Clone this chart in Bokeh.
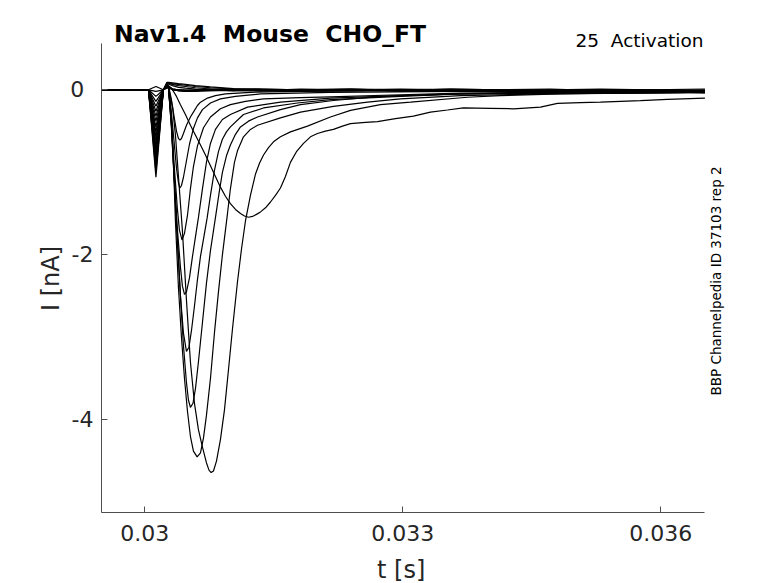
import math
from bokeh.plotting import figure
from bokeh.models import Range1d, FixedTicker, Label
from bokeh.embed import file_html
from bokeh.resources import INLINE

# ---------------- texts / ticks ----------------
TITLE = "Nav1.4  Mouse  CHO_FT"
PROTOCOL = "25  Activation"
SOURCE = "BBP Channelpedia ID 37103 rep 2"
X_LABEL = "t [s]"
Y_LABEL = "I [nA]"
X_TICKS = [0.030, 0.033, 0.036]
X_TICK_LABELS = ["0.03", "0.033", "0.036"]
Y_TICKS = [0, -2, -4]
Y_TICK_LABELS = ["0", "-2", "-4"]

# axis extents as drawn in the original (s, nA)
X_AXIS_START, X_AXIS_END = 0.029497, 0.036514
Y_AXIS_START, Y_AXIS_END = -5.1236, 0.558

# ---------------- data (time in ms, current in nA) ----------------
# common start of every sweep: baseline, step artefact dip, spike
PRE_T_MS = [29.497, 30.020, 30.043, 30.130, 30.217, 30.258]
DIP = [0.04, -0.02, -0.08, -0.14, -0.20, -0.26, -0.32, -0.38, -0.45, -0.51,
       -0.57, -0.63, -0.69, -0.75, -0.81, -0.87, -0.94, -1.00, -1.06]
SPIKE = [0.02, 0.03, 0.03, 0.04, 0.04, 0.05, 0.05, 0.07, 0.07, 0.07,
         0.07, 0.07, 0.07, 0.07, 0.07, 0.07, 0.08, 0.085, 0.09]

# sweeps without a large inward current (shared time grid)
FLAT_T_MS = [30.276, 30.322, 30.392, 30.473, 30.590, 30.764, 31.031, 31.346,
             31.811, 32.392, 32.973, 33.555, 34.136, 34.717, 35.299, 35.880, 36.514]
SWEEP_00 = [0.02, 0.01, 0.0, -0.01, 0.0, 0.01, 0.0, -0.01, 0.01, 0.0, -0.01, 0.01, 0.0, 0.01, -0.01, 0.0, 0.01]
SWEEP_01 = [0.03, 0.01, 0.0, 0.0, -0.01, 0.0, 0.01, 0.0, -0.01, 0.0, 0.01, 0.0, -0.01, 0.0, 0.01, 0.0, -0.01]
SWEEP_02 = [0.03, 0.0, -0.01, -0.01, 0.0, 0.0, -0.01, 0.01, 0.0, -0.01, 0.0, 0.01, 0.0, -0.01, 0.0, -0.01, 0.0]
SWEEP_03 = [0.04, 0.01, 0.0, -0.01, -0.01, 0.0, 0.0, -0.01, 0.0, 0.01, -0.01, 0.0, 0.0, -0.01, 0.0, 0.0, -0.02]
SWEEP_04 = [0.04, 0.0, -0.01, -0.02, -0.01, -0.01, 0.0, -0.01, -0.01, 0.0, -0.01, 0.0, -0.01, -0.02, 0.0, -0.01, -0.02]
SWEEP_05 = [0.05, 0.01, -0.01, -0.02, -0.02, -0.01, -0.01, -0.01, -0.02, -0.01, 0.0, -0.02, -0.01, -0.02, -0.01, -0.02, -0.03]
SWEEP_15 = [0.07, 0.05, 0.03, 0.02, 0.01, 0.0, -0.01, -0.01, -0.01, 0.0, -0.01, -0.02, -0.01, -0.02, -0.02, -0.01, -0.03]
SWEEP_16 = [0.08, 0.065, 0.05, 0.04, 0.025, 0.01, 0.0, 0.0, -0.01, 0.0, -0.01, 0.0, -0.01, -0.01, 0.0, -0.02, -0.02]
SWEEP_17 = [0.085, 0.075, 0.065, 0.055, 0.04, 0.025, 0.01, 0.005, 0.0, 0.01, 0.0, -0.01, 0.0, -0.01, -0.01, -0.02, -0.03]
SWEEP_18 = [0.09, 0.085, 0.075, 0.065, 0.05, 0.035, 0.015, 0.01, 0.0, 0.005, 0.0, 0.0, -0.01, 0.0, -0.02, -0.01, -0.04]

# sweeps with an inward Na current: (time ms, current nA)
SWEEP_06 = [(30.276, 0.04), (30.322, 0.0), (30.369, -0.08), (30.415, -0.18), (30.473, -0.30),
            (30.531, -0.43), (30.590, -0.55), (30.648, -0.67), (30.706, -0.79), (30.764, -0.92),
            (30.822, -1.05), (30.880, -1.18), (30.938, -1.29), (30.996, -1.38), (31.055, -1.45),
            (31.113, -1.50), (31.160, -1.53), (31.206, -1.545), (31.253, -1.535), (31.299, -1.51),
            (31.346, -1.48), (31.404, -1.43), (31.462, -1.36), (31.520, -1.28), (31.578, -1.19),
            (31.636, -1.05), (31.694, -0.88), (31.764, -0.75), (31.846, -0.65), (31.927, -0.57),
            (32.008, -0.53), (32.101, -0.50), (32.194, -0.48), (32.299, -0.44), (32.392, -0.41),
            (32.567, -0.395), (32.706, -0.385), (32.915, -0.35), (33.124, -0.32), (33.322, -0.27),
            (33.520, -0.245), (33.706, -0.22), (34.020, -0.225), (34.287, -0.23), (34.601, -0.21),
            (34.799, -0.165), (35.066, -0.155), (35.299, -0.15), (35.764, -0.13), (36.078, -0.115),
            (36.514, -0.10)]
SWEEP_07 = [(30.276, 0.03), (30.322, -0.20), (30.357, -0.55), (30.392, -1.05), (30.438, -1.71),
            (30.485, -2.55), (30.531, -3.30), (30.578, -3.80), (30.624, -4.12), (30.671, -4.33),
            (30.717, -4.52), (30.747, -4.61), (30.772, -4.64), (30.799, -4.62), (30.834, -4.50),
            (30.880, -4.24), (30.927, -3.88), (30.973, -3.40), (31.020, -2.90), (31.078, -2.33),
            (31.125, -1.93), (31.171, -1.59), (31.229, -1.28), (31.288, -1.02), (31.334, -0.89),
            (31.381, -0.79), (31.439, -0.70), (31.497, -0.63), (31.578, -0.57), (31.694, -0.51),
            (31.892, -0.44), (32.159, -0.33), (32.392, -0.25), (32.741, -0.18), (33.090, -0.15),
            (33.752, -0.09), (34.136, -0.07), (34.834, -0.05), (35.764, -0.035), (36.514, -0.03)]
SWEEP_08 = [(30.276, 0.02), (30.310, -0.35), (30.334, -0.90), (30.357, -1.60), (30.392, -2.40),
            (30.427, -3.00), (30.462, -3.50), (30.497, -3.90), (30.531, -4.20), (30.566, -4.38),
            (30.609, -4.45), (30.648, -4.40), (30.683, -4.22), (30.717, -3.95), (30.764, -3.50),
            (30.810, -2.95), (30.857, -2.45), (30.903, -2.00), (30.962, -1.50), (30.996, -1.20),
            (31.043, -0.88), (31.078, -0.74), (31.148, -0.57), (31.229, -0.48), (31.311, -0.43),
            (31.578, -0.34), (31.811, -0.27), (32.194, -0.20), (32.590, -0.15), (32.973, -0.11),
            (33.671, -0.07), (34.601, -0.05), (35.764, -0.04), (36.514, -0.03)]
SWEEP_09 = [(30.276, 0.02), (30.310, -0.40), (30.345, -1.10), (30.380, -1.80), (30.415, -2.50),
            (30.450, -3.10), (30.485, -3.55), (30.508, -3.76), (30.531, -3.85), (30.561, -3.80),
            (30.590, -3.62), (30.624, -3.30), (30.671, -2.82), (30.717, -2.35), (30.764, -1.95),
            (30.822, -1.55), (30.869, -1.22), (30.903, -1.00), (30.950, -0.80), (30.996, -0.67),
            (31.055, -0.54), (31.113, -0.45), (31.206, -0.38), (31.311, -0.33), (31.578, -0.24),
            (31.811, -0.18), (32.194, -0.13), (32.741, -0.08), (33.671, -0.05), (34.834, -0.04),
            (36.514, -0.03)]
SWEEP_10 = [(30.276, 0.02), (30.310, -0.45), (30.345, -1.15), (30.380, -1.85), (30.415, -2.50),
            (30.450, -2.95), (30.485, -3.17), (30.514, -3.12), (30.543, -2.92), (30.578, -2.62),
            (30.613, -2.30), (30.648, -2.02), (30.688, -1.78), (30.726, -1.55), (30.764, -1.28),
            (30.810, -0.98), (30.857, -0.75), (30.903, -0.60), (30.950, -0.51), (30.996, -0.45),
            (31.148, -0.30), (31.381, -0.22), (31.776, -0.16), (32.159, -0.12), (32.973, -0.08),
            (33.671, -0.05), (34.601, -0.04), (36.514, -0.03)]
SWEEP_11 = [(30.276, 0.03), (30.310, -0.45), (30.345, -1.10), (30.380, -1.70), (30.415, -2.15),
            (30.438, -2.38), (30.462, -2.48), (30.485, -2.45), (30.520, -2.28), (30.555, -2.02),
            (30.590, -1.78), (30.624, -1.55), (30.671, -1.20), (30.717, -0.88), (30.764, -0.65),
            (30.822, -0.48), (30.903, -0.36), (30.996, -0.30), (31.195, -0.21), (31.578, -0.15),
            (32.159, -0.10), (32.973, -0.07), (33.671, -0.05), (34.368, -0.04), (36.514, -0.03)]
SWEEP_12 = [(30.276, 0.04), (30.310, -0.40), (30.345, -0.95), (30.380, -1.45), (30.403, -1.70),
            (30.433, -1.82), (30.462, -1.74), (30.497, -1.52), (30.531, -1.20), (30.566, -0.93),
            (30.613, -0.68), (30.683, -0.46), (30.764, -0.33), (30.880, -0.23), (30.996, -0.18),
            (31.171, -0.14), (31.381, -0.11), (31.811, -0.095), (32.159, -0.085), (32.973, -0.06),
            (33.671, -0.04), (34.834, -0.03), (36.514, -0.03)]
SWEEP_13 = [(30.276, 0.04), (30.299, -0.15), (30.334, -0.55), (30.369, -0.95), (30.392, -1.13),
            (30.409, -1.19), (30.427, -1.16), (30.450, -1.06), (30.485, -0.86), (30.520, -0.66),
            (30.566, -0.47), (30.613, -0.34), (30.671, -0.24), (30.764, -0.16), (30.880, -0.11),
            (31.055, -0.08), (31.346, -0.05), (32.159, -0.03), (33.671, -0.02), (35.066, -0.02),
            (36.514, -0.02)]
SWEEP_14 = [(30.276, 0.05), (30.310, -0.12), (30.345, -0.35), (30.369, -0.50), (30.392, -0.59),
            (30.409, -0.61), (30.427, -0.59), (30.450, -0.53), (30.485, -0.43), (30.531, -0.33),
            (30.566, -0.27), (30.613, -0.19), (30.648, -0.15), (30.729, -0.10), (30.822, -0.07),
            (30.938, -0.05), (31.229, -0.03), (31.811, -0.02), (32.973, -0.01), (34.136, -0.02),
            (35.299, -0.01), (36.514, -0.02)]

FLAT_SWEEPS = {0: SWEEP_00, 1: SWEEP_01, 2: SWEEP_02, 3: SWEEP_03, 4: SWEEP_04, 5: SWEEP_05,
               15: SWEEP_15, 16: SWEEP_16, 17: SWEEP_17, 18: SWEEP_18}
MAIN_SWEEPS = {6: SWEEP_06, 7: SWEEP_07, 8: SWEEP_08, 9: SWEEP_09, 10: SWEEP_10,
               11: SWEEP_11, 12: SWEEP_12, 13: SWEEP_13, 14: SWEEP_14}

# ---------------- figure ----------------
FONT = "DejaVu Sans"
NB = "\u00a0"
p = figure(frame_width=627, frame_height=491,
           min_border_left=101, min_border_right=40, min_border_top=21, min_border_bottom=71,
           x_range=Range1d(0.029497, 0.036788), y_range=Range1d(-5.1236, 0.8279),
           output_backend="svg", toolbar_location=None)
p.background_fill_color = "white"
p.border_fill_color = "white"
p.outline_line_color = None
p.grid.grid_line_color = None

for ax in (p.xaxis[0], p.yaxis[0]):
    ax.axis_line_color = "#4d4d4d"
    ax.axis_line_width = 1
    ax.major_tick_line_color = "#4d4d4d"
    ax.major_tick_in = 6
    ax.major_tick_out = 0
    ax.minor_tick_line_color = None
    ax.major_label_text_font = FONT
    ax.major_label_text_font_size = "22px"
    ax.major_label_text_color = "#262626"
    ax.axis_label_text_font = FONT
    ax.axis_label_text_font_size = "24px"
    ax.axis_label_text_font_style = "normal"
    ax.axis_label_text_color = "#262626"

p.xaxis.bounds = (X_AXIS_START, X_AXIS_END)
p.xaxis.ticker = FixedTicker(ticks=X_TICKS)
p.xaxis.major_label_overrides = {t: lab for t, lab in zip(X_TICKS, X_TICK_LABELS)}
p.xaxis.major_label_standoff = 12
# trailing no-break spaces keep the label centred under the drawn axis span
p.xaxis.axis_label = X_LABEL + NB * 3 + "\u2009"
p.xaxis.axis_label_standoff = 12

# the original's y tick labels are left-aligned: pad the short "0" label
Y_PAD = {"0": "\u2008\u200a"}
p.yaxis.bounds = (Y_AXIS_START, Y_AXIS_END)
p.yaxis.ticker = FixedTicker(ticks=Y_TICKS)
p.yaxis.major_label_overrides = {t: lab + Y_PAD.get(lab, "") for t, lab in zip(Y_TICKS, Y_TICK_LABELS)}
p.yaxis.major_label_standoff = 8
p.yaxis.axis_label = Y_LABEL + NB * 3
p.yaxis.axis_label_standoff = 2

# sweeps
for k in range(19):
    pre_i = [0.0, 0.0, 0.0, DIP[k], 0.0, SPIKE[k]]
    if k in FLAT_SWEEPS:
        t_ms = PRE_T_MS + FLAT_T_MS
        cur = pre_i + FLAT_SWEEPS[k]
    else:
        body = MAIN_SWEEPS[k]
        t_ms = PRE_T_MS + [b[0] for b in body]
        cur = pre_i + [b[1] for b in body]
    p.line([v / 1000.0 for v in t_ms], cur, line_color="black", line_width=1.2)

# texts inside the (borderless) frame
p.add_layout(Label(x=0.029642, y=0.674, text=TITLE.replace("  ", NB + " "),
                   text_align="left", text_baseline="middle", text_font=FONT,
                   text_font_size="23.5px", text_font_style="bold", text_color="black"))
p.add_layout(Label(x=0.036497, y=0.598, text=PROTOCOL.replace("  ", NB + " "),
                   text_align="right", text_baseline="middle", text_font=FONT,
                   text_font_size="18.5px", text_color="black"))
p.add_layout(Label(x=0.036644, y=-3.705, text=SOURCE, angle=math.pi / 2, text_align="left",
                   text_baseline="middle", text_font=FONT, text_font_size="13.5px",
                   text_color="black"))

open("out.html", "w").write(file_html(p, INLINE))
